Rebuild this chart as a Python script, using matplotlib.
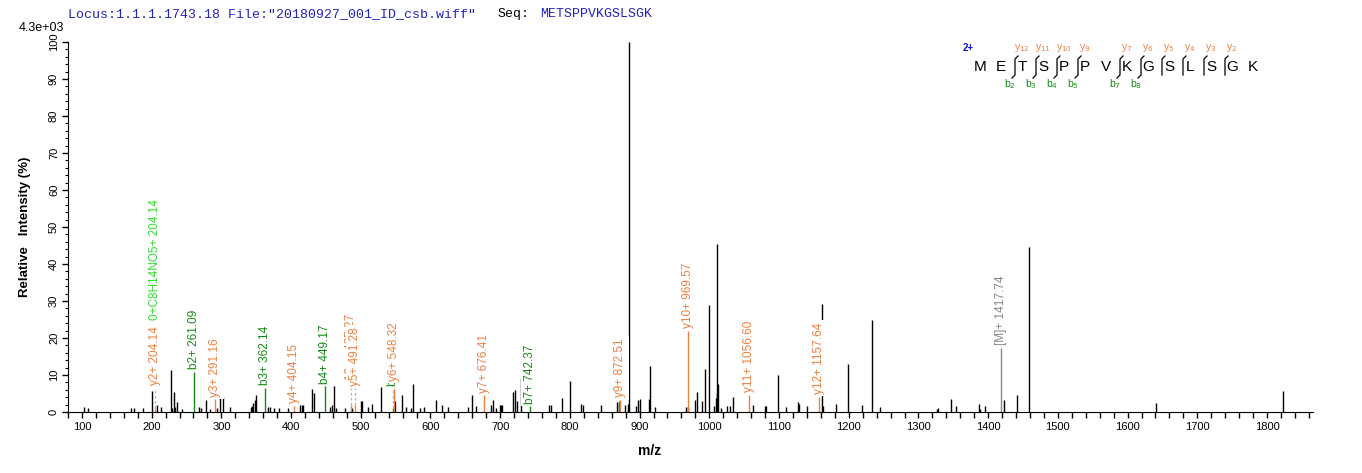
import numpy as np
import matplotlib
matplotlib.use("Agg")
import matplotlib.pyplot as plt
from matplotlib.lines import Line2D
from matplotlib.ticker import MultipleLocator

plt.rcParams['font.family'] = ['Liberation Sans', 'DejaVu Sans']

# ---- data: unlabeled peaks (m/z, relative intensity %) ----
peak_mz = [103.3, 109.0, 170.8, 174.6, 188.0, 200.4, 207.2, 212.9, 227.3, 229.0,
           231.5, 233.4, 235.8, 243.9, 268.3, 271.2, 278.4, 284.1, 294.1, 298.4,
           302.3, 312.8, 342.5, 343.9, 345.8, 348.2, 349.6, 367.3, 369.3, 375.0,
           382.6, 396.0, 413.2, 415.2, 417.1, 430.5, 433.3, 455.3, 459.1, 462.0,
           464.4, 477.8, 487.4, 499.8, 501.2, 510.3, 516.6, 529.4, 549.5, 558.6,
           565.3, 572.5, 574.9, 584.5, 591.1, 608.3, 617.0, 624.6, 654.2, 660.0,
           664.8, 687.3, 690.1, 694.0, 699.7, 701.6, 703.1, 718.9, 720.8, 724.1,
           730.3, 770.5, 773.3, 789.1, 800.6, 815.9, 818.3, 845.0, 867.5, 869.9,
           879.5, 883.8, 885.2, 895.3, 898.1, 901.0, 913.9, 914.9, 922.6, 966.1,
           969.9, 979.0, 982.7, 990.0, 994.2, 999.9, 1006.7, 1009.1, 1010.5, 1011.4,
           1012.5, 1017.2, 1025.8, 1030.1, 1034.4, 1062.2, 1080.3, 1081.7, 1098.9, 1109.6,
           1127.7, 1129.1, 1140.6, 1161.8, 1162.8, 1182.2, 1199.5, 1218.5, 1233.8, 1244.4,
           1327.1, 1328.1, 1346.8, 1354.4, 1386.9, 1388.4, 1396.0, 1423.3, 1441.9, 1458.7,
           1641.0, 1822.6]
peak_int = [1.3, 1.1, 1.0, 1.0, 1.0, 5.6, 1.8, 1.4, 11.3, 1.0,
            5.5, 1.4, 2.7, 0.9, 1.4, 1.1, 3.2, 0.9, 1.2, 3.9,
            4.0, 1.4, 1.3, 1.6, 2.3, 3.2, 4.7, 1.4, 1.3, 1.1,
            1.1, 1.1, 1.8, 2.0, 2.0, 6.3, 5.2, 1.3, 1.8, 6.9,
            1.1, 1.1, 1.1, 3.0, 3.0, 1.3, 2.1, 6.8, 2.9, 4.7,
            1.4, 1.2, 7.7, 1.2, 1.4, 3.2, 2.0, 1.4, 1.4, 4.5,
            1.5, 1.8, 3.3, 1.0, 2.0, 1.8, 1.8, 5.4, 5.9, 3.1,
            9.1, 1.8, 1.8, 3.7, 8.4, 2.1, 1.8, 1.8, 2.8, 2.5,
            1.8, 2.1, 100.0, 1.7, 3.2, 3.4, 3.6, 12.3, 1.3, 1.4,
            1.3, 3.2, 5.4, 2.9, 11.5, 29.0, 1.6, 3.9, 5.2, 45.5,
            7.7, 1.2, 1.5, 1.5, 4.0, 2.0, 1.5, 1.7, 9.9, 1.3,
            2.6, 2.1, 1.5, 29.3, 1.6, 2.1, 13.0, 1.8, 25.0, 1.3,
            0.7, 1.1, 3.4, 1.5, 2.1, 0.7, 1.5, 3.2, 4.5, 44.5,
            2.3, 5.8]

# ---- data: annotated fragment peaks ----
ion_mz = [204.14, 204.14, 261.09, 291.16, 362.14, 404.15, 449.17, 485.27, 491.28,
          546.22, 548.32, 676.41, 742.37, 870.47, 872.51, 969.57, 1056.60, 1157.64, 1417.74]
ion_int = [1.2, 1.2, 10.8, 3.4, 6.6, 1.7, 6.9, 2.0, 2.0,
           1.2, 7.6, 4.5, 1.5, 3.1, 3.2, 22.0, 4.7, 4.1, 17.3]
ion_text = ['y2+ 204.14', '0+C8H14NO5+ 204.14', 'b2+ 261.09', 'y3+ 291.16', 'b3+ 362.14',
            'y4+ 404.15', 'b4+ 449.17', 'y10++ 485.27', 'y5+ 491.28', 'b5+ 546.22',
            'y6+ 548.32', 'y7+ 676.41', 'b7+ 742.37', 'b8+ 870.47', 'y9+ 872.51',
            'y10+ 969.57', 'y11+ 1056.60', 'y12+ 1157.64', '[M]+ 1417.74']
ion_kind = ['y', 'imm', 'b', 'y', 'b', 'y', 'b', 'y', 'y', 'b',
            'y', 'y', 'b', 'b', 'y', 'y', 'y', 'y', 'M']

sequence = list('METSPPVKGSLSGK')
y_breaks = {2: 12, 3: 11, 4: 10, 5: 9, 7: 7, 8: 6, 9: 5, 10: 4, 11: 3, 12: 2}
b_breaks = {2: 2, 3: 3, 4: 4, 5: 5, 7: 7, 8: 8}

# ---- layout / style ----
W, H = 1362, 473
colors = {'y': '#EE8040', 'b': '#138A13', 'imm': '#33DD33', 'M': '#858585'}
label_lift = {'y2+ 204.14': 6.5, '0+C8H14NO5+ 204.14': 24.0, 'y10++ 485.27': 6.4,
              'y5+ 491.28': 6.4, 'b5+ 546.22': 6.2}
blue = '#2222C0'


def fx(px):
    return px / W


def fy(py):
    return 1 - py / H


fig = plt.figure(figsize=(W / 100, H / 100), dpi=100)
ax = fig.add_axes([fx(68), fy(412), (1313 - 68) / W, (412 - 42) / H])

ax.vlines(peak_mz, 0, peak_int, colors='black', lw=1.0)

for mz, h, txt, kind in zip(ion_mz, ion_int, ion_text, ion_kind):
    col = colors[kind]
    base = label_lift.get(txt, h)
    if kind != 'imm':
        ax.vlines(mz, 0, h, colors=col, lw=1.0, zorder=2.5)
        if base > h:
            ax.vlines(mz, h, base, colors='#B0B0B0', lw=0.9,
                      linestyles=(0, (2, 2)), zorder=2.5)
    ax.annotate(txt, (mz, base), xytext=(0, 2), textcoords='offset points',
                rotation=90, ha='center', va='bottom', color=col, fontsize=8.5,
                bbox=dict(boxstyle='square,pad=0.2', fc='white', ec='none'))

ax.set_xlim(80, 1866)
ax.set_ylim(0, 100)
ax.spines['top'].set_visible(False)
ax.spines['right'].set_visible(False)
ax.xaxis.set_major_locator(MultipleLocator(100))
ax.xaxis.set_minor_locator(MultipleLocator(20))
ax.yaxis.set_major_locator(MultipleLocator(10))
ax.yaxis.set_minor_locator(MultipleLocator(2))
ax.tick_params(axis='x', which='both', length=4.5, width=1, labelsize=8, pad=3)
ax.tick_params(axis='y', which='major', length=4.5, width=1, labelsize=8, pad=2)
ax.tick_params(axis='y', which='minor', length=2.5, width=0.8)
for lab in ax.get_yticklabels():
    lab.set_rotation(90)
    lab.set_va('center')
    lab.set_ha('right')

fig.text(fx(25), fy(227), 'Relative   Intensity (%)', rotation=90, ha='center',
         va='center', fontsize=9.5, fontweight='bold')
fig.text(fx(650), fy(451), 'm/z', ha='center', va='center', fontsize=10,
         fontweight='bold')
fig.text(fx(64), fy(28), '4.3e+03', ha='right', va='center', fontsize=9)

# header line
mono = 'Liberation Mono'
fig.text(fx(68), fy(14), 'Locus:1.1.1.1743.18 File:"20180927_001_ID_csb.wiff"',
         family=mono, fontsize=9.5, color=blue, va='center')
fig.text(fx(498), fy(14), 'Seq:', family=mono, fontsize=9.5, color='black', va='center')
fig.text(fx(540), fy(14), ''.join(sequence), family=mono, fontsize=9.5, color=blue,
         va='center')

# sequence fragment map
x0, step = 980, 21.0
fig.text(fx(968), fy(48), '2+', color='#1010D0', fontsize=7, fontweight='bold',
         ha='center', va='center')
for i, aa in enumerate(sequence):
    fig.text(fx(x0 + i * step), fy(67), aa, fontsize=11, ha='center', va='center')
for i in range(1, len(sequence)):
    if i not in y_breaks and i not in b_breaks:
        continue
    mx = x0 + i * step - 7
    pts_x = [mx, mx]
    pts_y = [59, 75]
    if i in y_breaks:
        pts_x = [mx + 3] + pts_x
        pts_y = [56] + pts_y
        fig.text(fx(mx + 7), fy(48), r'y$_{%d}$' % y_breaks[i], color=colors['y'],
                 fontsize=7.5, ha='center', va='center')
    if i in b_breaks:
        pts_x = pts_x + [mx - 3]
        pts_y = pts_y + [78]
        fig.text(fx(mx - 5), fy(84), r'b$_{%d}$' % b_breaks[i], color=colors['b'],
                 fontsize=7.5, ha='center', va='center')
    fig.add_artist(Line2D([fx(p) for p in pts_x], [fy(p) for p in pts_y],
                          color='black', lw=0.9, transform=fig.transFigure))

fig.savefig('out.png', dpi=100)
